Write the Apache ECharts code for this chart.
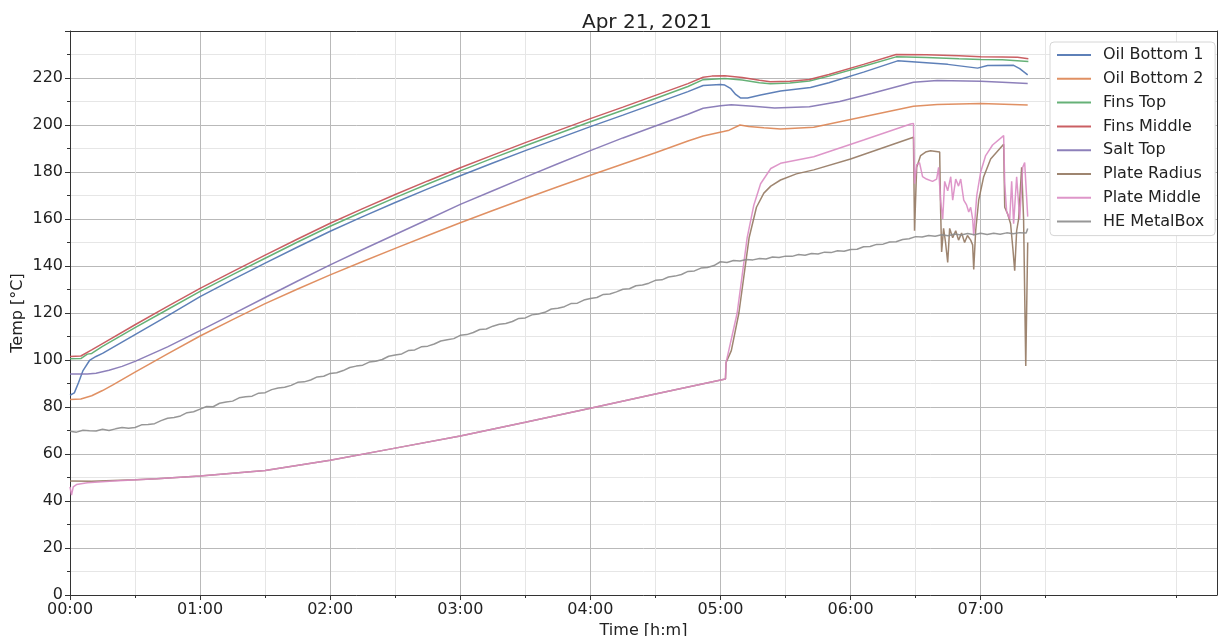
<!DOCTYPE html>
<html><head><meta charset="utf-8">
<script src="https://cdn.jsdelivr.net/npm/echarts@6/dist/echarts.min.js"></script>
<style>html,body{margin:0;padding:0;background:#fff}#c{width:1218px;height:636px}</style>
</head><body><div id="c"></div>
<script>
const chartTitle = 'Apr 21, 2021';
const seriesNames = ['Oil Bottom 1','Oil Bottom 2','Fins Top','Fins Middle','Salt Top','Plate Radius','Plate Middle','HE MetalBox'];
const seriesColors = ['#4C72B0','#DD8452','#55A868','#C44E52','#8172B3','#937860','#DA8BC3','#8C8C8C'];
const yTicks = [0,20,40,60,80,100,120,140,160,180,200,220];
const xTickMinutes = [0,60,120,180,240,300,360,420];

// [minutes since 00:00, °C]
const oilBottom1 = [[0,85],[2,86],[4,90.5],[6,95.5],[9,99.8],[12,101.5],[15,102.8],[30,110.8],[45,118.8],[60,127],[75,134.2],[90,141.2],[105,148.1],[120,154.8],[135,161],[150,167],[165,172.8],[180,178.4],[195,183.8],[210,189.1],[225,194.2],[240,199.3],[255,204.2],[270,209.2],[285,214.2],[292,216.8],[300,217.2],[302,217.0],[304.6,215.6],[307,213],[309.2,211.5],[312.5,211.5],[318.5,212.8],[327.7,214.5],[341.5,216.0],[350,218],[366,222.5],[381.7,227.3],[390,226.8],[404.8,225.8],[418.6,224.2],[423.2,225.3],[435.2,225.4],[438,224],[441.7,221.3]];
const oilBottom2 = [[0,83.2],[5,83.4],[10,84.8],[15,87],[20,89.5],[30,94.8],[45,102.6],[60,110.2],[75,117.2],[90,124],[105,130.2],[120,136.2],[135,141.9],[150,147.5],[165,153],[180,158.4],[195,163.6],[210,168.7],[225,173.7],[240,178.6],[255,183.4],[270,188.2],[285,193.2],[292,195.3],[301.4,197.2],[304,197.8],[309,200],[313,199.4],[320,198.8],[327.7,198.3],[343,199],[366,203.5],[389,208],[400,208.7],[420,209.2],[441.7,208.5]];
const finsTop = [[0,100.5],[5,100.6],[8,102.5],[10,102.8],[15,105.8],[30,113.8],[45,121.5],[60,129.2],[75,136.3],[90,143.3],[105,150.2],[120,156.9],[135,163.1],[150,169.1],[165,174.9],[180,180.5],[195,185.9],[210,191.2],[225,196.3],[240,201.4],[255,206.3],[270,211.3],[285,216.4],[292,219.3],[302,219.8],[310,219.1],[318,218],[323,217.6],[332,217.9],[341,218.7],[350,220.8],[366,225],[381,229],[395,228.7],[410,228.2],[420,227.9],[430,227.8],[442,227.0]];
const finsMiddle = [[0,101.5],[5,101.7],[10,104.3],[15,107],[30,115],[45,122.8],[60,130.5],[75,137.6],[90,144.6],[105,151.5],[120,158.2],[135,164.4],[150,170.4],[165,176.2],[180,181.8],[195,187.2],[210,192.5],[225,197.6],[240,202.7],[255,207.6],[270,212.6],[285,217.6],[292,220.3],[296,220.8],[302,221.0],[310,220.2],[318,219],[323,218.4],[332,218.6],[341,219.4],[350,221.5],[366,225.8],[381,230.0],[395,229.9],[410,229.5],[420,229.0],[430,228.9],[437,228.8],[442,228.2]];
const saltTop = [[0,94],[8,94],[12,94.4],[18,95.6],[24,97.3],[30,99.4],[45,105.6],[60,112.5],[75,119.5],[90,126.6],[105,133.6],[120,140.5],[135,147],[150,153.4],[165,159.8],[180,166.2],[195,172],[210,177.8],[225,183.5],[240,189.1],[255,194.5],[270,199.6],[285,204.6],[292,207.1],[300,208.2],[305,208.6],[315,208],[325,207.2],[341,207.8],[355,210],[370,213.5],[389,218.2],[400,218.9],[420,218.6],[430,218.2],[441.7,217.7]];
const plateRadius = [[0,48.5],[10,48.4],[30,49],[40,49.5],[60,50.6],[90,53],[120,57.3],[150,62.5],[180,67.7],[210,73.5],[240,79.5],[270,85.5],[302.3,91.9],[302.6,99],[305,104],[308.5,120],[313.2,152],[316.6,165],[320,171],[323.2,174],[327.7,176.6],[335,179.2],[343,180.9],[360,185.5],[375,190.3],[389,194.8],[389.5,155],[390.5,182],[392.3,187],[394.6,188.5],[396.9,189],[401.1,188.5],[401.5,165],[402,146],[402.9,156],[403.8,150],[404.8,141.5],[405.7,156],[407.1,152],[408.5,155],[409.8,151],[411.2,154],[412.6,150],[413.9,153],[415.4,151],[416.3,149],[416.8,138.5],[417.7,155],[419.1,168],[421.4,178],[424.6,185.5],[430.6,191.8],[431.1,165],[432.5,162],[433.8,158],[434.8,148],[435.7,138],[436.6,155],[437.5,160],[438.9,182],[439.8,160],[440.8,97.5],[441.7,150]];
const plateMiddle = [[0,46],[0.7,42.5],[1.5,46],[3,47],[8,47.8],[20,48.5],[40,49.5],[60,50.6],[90,53],[120,57.3],[150,62.5],[180,67.7],[210,73.5],[240,79.5],[270,85.5],[302.3,91.9],[302.6,99],[307.7,120],[312.3,152],[315.4,166],[318.5,175],[323.2,181.5],[327.7,183.7],[343,186.5],[366,193.6],[387.7,200.4],[389,200.7],[389.5,175],[390.5,183],[391.8,184],[393.2,178],[395,177],[397.8,176],[399.7,177],[400.6,182],[401.5,168],[402.5,160],[403.4,176],[404.8,172],[406.2,178],[407.1,168],[408.5,177],[409.8,174],[410.8,177],[412.2,168],[413.5,166],[414.5,163],[415.4,165],[416.3,160],[416.8,153],[418.2,170],[420,180],[422.3,187],[425.5,191.5],[430.6,195.5],[431.1,175],[432,163],[433.4,160],[434.3,176],[435.2,158],[436.6,178],[438,160],[439.4,182],[440.3,184],[441.7,161]];
const heMetalBox = [[0,69.7],[3,69.3],[6,70.1],[9,69.9],[12,69.8],[15,70.5],[18,70.0],[21,70.7],[24,71.3],[27,71.0],[30,71.3],[33,72.4],[36,72.6],[39,72.9],[42,74.2],[45,75.2],[48,75.5],[51,76.2],[54,77.6],[57,78.0],[60,79.1],[63,80.2],[66,80.1],[69,81.6],[72,82.1],[75,82.5],[78,83.9],[81,84.4],[84,84.6],[87,85.9],[90,86.1],[93,87.4],[96,88.1],[99,88.4],[102,89.2],[105,90.5],[108,90.7],[111,91.5],[114,92.8],[117,93.1],[120,94.3],[123,94.6],[126,95.5],[129,96.8],[132,97.4],[135,97.8],[138,99.1],[141,99.5],[144,100.2],[147,101.6],[150,102.1],[153,102.6],[156,104.0],[159,104.3],[162,105.6],[165,105.9],[168,106.8],[171,108.1],[174,108.6],[177,109.1],[180,110.5],[183,110.8],[186,111.7],[189,113.0],[192,113.2],[195,114.4],[198,115.2],[201,115.5],[204,116.4],[207,117.7],[210,117.9],[213,119.2],[216,119.6],[219,120.3],[222,121.7],[225,122.0],[228,122.7],[231,124.0],[234,124.2],[237,125.5],[240,126.2],[243,126.6],[246,127.9],[249,128.1],[252,129.0],[255,130.1],[258,130.3],[261,131.6],[264,131.9],[267,132.7],[270,133.9],[273,134.1],[276,135.3],[279,135.7],[282,136.4],[285,137.7],[288,137.9],[291,139.1],[294,139.4],[297,140.2],[300,141.8],[303,141.5],[306,142.3],[309,142.1],[312,142.8],[315,142.6],[318,143.2],[321,143.0],[324,143.8],[327,143.6],[330,144.2],[333,144.1],[336,144.9],[339,144.6],[342,145.3],[345,145.1],[348,145.9],[351,145.7],[354,146.5],[357,146.3],[360,147.0],[363,147.1],[366,148.2],[369,148.3],[372,149.2],[375,149.3],[378,150.2],[381,150.3],[384,151.3],[387,151.6],[390,152.5],[393,152.3],[396,153.0],[399,152.7],[402,153.3],[405,152.9],[408,153.6],[411,153.2],[414,153.8],[417,153.3],[420,153.9],[423,153.4],[426,153.9],[429,153.5],[432,154.1],[435,153.7],[438,154.2],[441,154.0],[441.7,156]];

const seriesData = [oilBottom1, oilBottom2, finsTop, finsMiddle, saltTop, plateRadius, plateMiddle, heMetalBox];
const FONT = 'DejaVu Sans';
const pad = n => (n < 10 ? '0' : '') + n;
const fmtTime = v => pad(Math.floor(v / 60)) + ':' + pad(Math.round(v % 60));

const chart = echarts.init(document.getElementById('c'), null, {renderer: 'canvas'});
chart.setOption({
  animation: false,
  backgroundColor: '#fff',
  title: {text: chartTitle, left: 642, top: 8, textAlign: 'center',
    textStyle: {fontFamily: FONT, fontSize: 20, fontWeight: 'normal', color: '#222'}},
  legend: {
    data: seriesNames, orient: 'vertical', left: 1050, top: 42,
    backgroundColor: '#fff', borderColor: '#d6d6d6', borderWidth: 1, borderRadius: 4,
    padding: [4, 11, 5, 6], itemWidth: 34, itemHeight: 14, itemGap: 5.8, selectedMode: false,
    itemStyle: {opacity: 0},
    lineStyle: {width: 2},
    textStyle: {fontFamily: FONT, fontSize: 16, color: '#222', lineHeight: 18, padding: [0,0,0,7]}
  },
  grid: {left: 70, right: 1, top: 31, bottom: 41, containLabel: false, outerBoundsMode: 'none'},
  xAxis: [{
    type: 'value', min: 0, max: 529, interval: 60,
    name: 'Time [h:m]', nameLocation: 'middle', nameGap: 28, nameMoveOverlap: false,
    nameTextStyle: {fontFamily: FONT, fontSize: 16, color: '#222'},
    axisLine: {show: true, onZero: false, lineStyle: {color: '#333', width: 1}},
    axisTick: {show: true, length: 5, lineStyle: {color: '#333'}, customValues: xTickMinutes},
    minorTick: {show: true, splitNumber: 2, length: 3, lineStyle: {color: '#333'}},
    axisLabel: {fontFamily: FONT, fontSize: 16, color: '#222', margin: 7,
      showMinLabel: true, showMaxLabel: true,
      customValues: xTickMinutes, formatter: v => fmtTime(v)},
    splitLine: {show: true, lineStyle: {color: '#b9b9b9', width: 1}},
    minorSplitLine: {show: true, lineStyle: {color: '#e6e6e6', width: 1}}
  }, {
    type: 'value', position: 'top', min: 0, max: 529,
    axisLine: {show: true, onZero: false, lineStyle: {color: '#333', width: 1}},
    axisTick: {show: false}, axisLabel: {show: false}, splitLine: {show: false}
  }],
  yAxis: [{
    type: 'value', min: 0, max: 240, interval: 20,
    name: 'Temp [°C]', nameLocation: 'middle', nameGap: 44, nameRotate: 90, nameMoveOverlap: false,
    nameTextStyle: {fontFamily: FONT, fontSize: 16, color: '#222'},
    axisLine: {show: true, onZero: false, lineStyle: {color: '#333', width: 1}},
    axisTick: {show: true, length: 5, lineStyle: {color: '#333'}},
    minorTick: {show: true, splitNumber: 2, length: 3, lineStyle: {color: '#333'}},
    axisLabel: {fontFamily: FONT, fontSize: 16, color: '#222', margin: 7, showMaxLabel: false,
      formatter: v => (yTicks.indexOf(v) >= 0 ? String(v) : '')},
    splitLine: {show: true, lineStyle: {color: '#b9b9b9', width: 1}},
    minorSplitLine: {show: true, lineStyle: {color: '#e6e6e6', width: 1}}
  }, {
    type: 'value', position: 'right', min: 0, max: 240,
    axisLine: {show: true, onZero: false, lineStyle: {color: '#333', width: 1}},
    axisTick: {show: false}, axisLabel: {show: false}, splitLine: {show: false}
  }],
  series: seriesNames.map((name, i) => ({
    name, type: 'line', data: seriesData[i], xAxisIndex: 0, yAxisIndex: 0,
    showSymbol: false, symbol: 'none', smooth: false, sampling: null,
    lineStyle: {color: seriesColors[i], width: 1.5, opacity: 0.9},
    itemStyle: {color: seriesColors[i]}, z: 2 + i
  }))
});
</script></body></html>
